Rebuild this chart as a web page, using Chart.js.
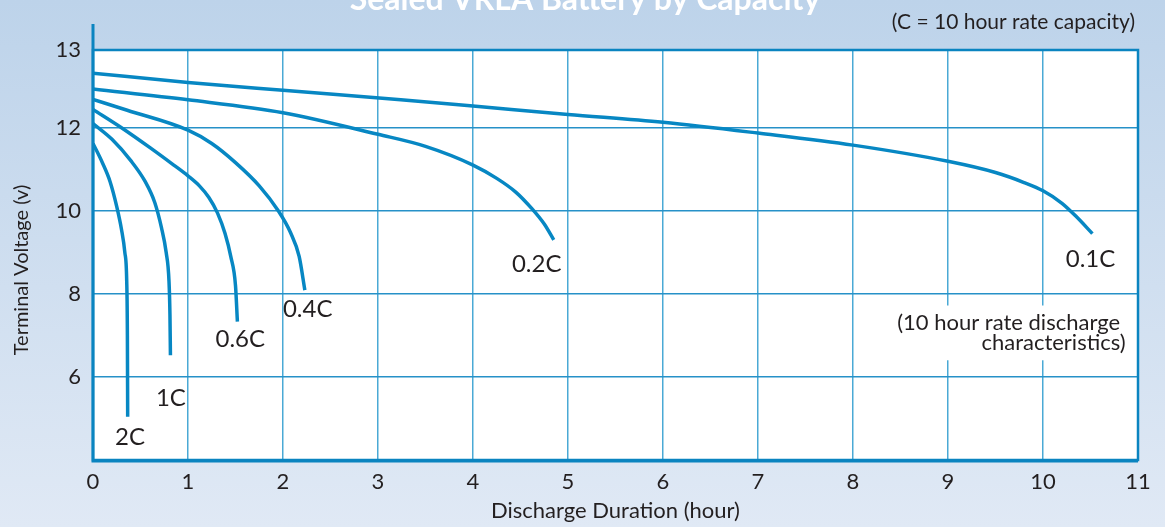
<!DOCTYPE html>
<html>
<head>
<meta charset="utf-8">
<script src="https://cdn.jsdelivr.net/npm/chart.js@4.4.0/dist/chart.umd.min.js"></script>
<style>
  html, body { margin: 0; padding: 0; }
  body { width: 1165px; height: 527px; overflow: hidden; background: #d0dff0; }
  #wrap { width: 1165px; height: 527px; position: relative; }
</style>
</head>
<body>
<div id="wrap"><canvas id="chartDescarga"></canvas></div>
<script>
// Curvas de descarga (horas, volts)
const nomesCurvas = ['0.1C', '0.2C', '0.4C', '0.6C', '1C', '2C'];

const horas01 = [0, 1, 2, 3.24, 4, 5, 6, 7, 8, 9, 9.5, 9.8, 10, 10.2, 10.35, 10.52];
const volts01 = [13.31, 13.09, 12.9, 12.67, 12.52, 12.32, 12.13, 11.87, 11.58, 11.19, 10.92, 10.68, 10.48, 10.18, 9.86, 9.45];

const horas02 = [0, 1, 2, 3, 3.5, 4, 4.25, 4.45, 4.62, 4.75, 4.85];
const volts02 = [12.93, 12.67, 12.36, 11.84, 11.55, 11.10, 10.78, 10.45, 10.05, 9.68, 9.3];

const horas04 = [0, 0.36, 1, 1.25, 1.5, 1.75, 1.95, 2.08, 2.17, 2.23];
const volts04 = [12.68, 12.42, 11.94, 11.62, 11.16, 10.6, 10.0, 9.47, 8.9, 8.09];

const horas06 = [0, 0.3, 0.6, 0.85, 1.0, 1.12, 1.22, 1.31, 1.39, 1.45, 1.5, 1.52];
const volts06 = [12.44, 12.0, 11.52, 11.1, 10.84, 10.6, 10.32, 9.95, 9.45, 8.9, 8.2, 7.33];

const horas1 = [0, 0.2, 0.4, 0.55, 0.65, 0.72, 0.77, 0.8, 0.81, 0.815];
const volts1 = [12.1, 11.72, 11.2, 10.7, 10.2, 9.6, 9.0, 8.3, 7.5, 6.52];

const horas2 = [0, 0.1, 0.18, 0.25, 0.3, 0.335, 0.355, 0.362, 0.365];
const volts2 = [11.62, 11.15, 10.7, 10.1, 9.55, 9.0, 8.3, 7.0, 5.04];

// Posicao dos rotulos das curvas (em unidades do grafico)
const rotuloHoras = [10.5, 4.67, 2.26, 1.55, 0.82, 0.39];
const rotuloVolts = [8.83, 8.71, 7.63, 6.90, 5.48, 4.54];

// Eixos
const ticksY = [4, 6, 8, 10, 12, 13.87];
const ticksYLabels = ['', '6', '8', '10', '12', '13'];
const ticksX = [0, 1, 2, 3, 4, 5, 6, 7, 8, 9, 10, 11];

const titulo = 'Sealed VRLA Battery by Capacity';
const notaC = '(C = 10 hour rate capacity)';
const notaDescarga = ['(10 hour rate discharge ', 'characteristics)'];

const corCurva = '#0787c3';
const corTexto = '#231f20';
const fonte = 'Lato, "Noto Sans", sans-serif';

const curvas = [
    [horas01, volts01], [horas02, volts02], [horas04, volts04],
    [horas06, volts06], [horas1, volts1], [horas2, volts2]
];

const decor = {
    id: 'decor',
    beforeDraw(chart) {
        const { ctx, chartArea: a, width, height } = chart;
        ctx.save();
        const g = ctx.createLinearGradient(0, 0, 0, height);
        g.addColorStop(0, '#bdd3ea');
        g.addColorStop(1, '#e0e9f5');
        ctx.fillStyle = g;
        ctx.fillRect(0, 0, width, height);
        ctx.fillStyle = '#ffffff';
        ctx.fillRect(a.left, a.top, a.right - a.left, a.bottom - a.top);
        ctx.restore();
    },
    afterDraw(chart) {
        const { ctx, chartArea: a, scales } = chart;
        ctx.save();
        // moldura
        ctx.strokeStyle = '#0a84c0';
        ctx.lineWidth = 2.5;
        ctx.strokeRect(a.left, a.top, a.right - a.left, a.bottom - a.top);
        ctx.lineWidth = 3;
        ctx.beginPath();
        ctx.moveTo(a.left, a.top - 26);
        ctx.lineTo(a.left, a.bottom + 1);
        ctx.lineTo(a.right, a.bottom + 1);
        ctx.stroke();

        // titulo (cortado no topo)
        ctx.fillStyle = '#ffffff';
        ctx.font = 'bold 32px ' + fonte;
        ctx.textAlign = 'center';
        ctx.textBaseline = 'alphabetic';
        ctx.fillText(titulo, 585, 10);

        ctx.fillStyle = corTexto;
        ctx.font = '21px ' + fonte;
        ctx.textAlign = 'right';
        ctx.textBaseline = 'middle';
        ctx.fillText(notaC, a.right - 3, 22);

        // rotulos das curvas
        ctx.font = '24px ' + fonte;
        ctx.textAlign = 'center';
        nomesCurvas.forEach((n, i) => {
            ctx.fillText(n, scales.x.getPixelForValue(rotuloHoras[i]), scales.y.getPixelForValue(rotuloVolts[i]));
        });

        // nota 10 horas com fundo branco
        const xr = scales.x.getPixelForValue(10.87);
        const y1 = scales.y.getPixelForValue(7.31);
        const y2 = scales.y.getPixelForValue(6.81);
        ctx.font = '22px ' + fonte;
        const w = ctx.measureText(notaDescarga[0]).width;
        ctx.fillStyle = '#ffffff';
        ctx.fillRect(xr - w - 8, y1 - 17, w + 12, y2 - y1 + 34);
        ctx.fillStyle = corTexto;
        ctx.fillText(notaDescarga[0], xr - w / 2, y1);
        ctx.textAlign = 'right';
        ctx.fillText(notaDescarga[1], xr, y2);

        // titulo do eixo Y
        ctx.translate(22, 270);
        ctx.rotate(-Math.PI / 2);
        ctx.textAlign = 'center';
        ctx.font = '20px ' + fonte;
        ctx.fillText('Terminal Voltage (v)', 0, 0);
        ctx.restore();
    }
};

new Chart(document.getElementById('chartDescarga'), {
    type: 'line',
    data: {
        datasets: curvas.map((c, i) => ({
            label: nomesCurvas[i],
            data: c[0].map((h, j) => ({ x: h, y: c[1][j] })),
            borderColor: corCurva,
            borderWidth: 3.5,
            pointRadius: 0,
            cubicInterpolationMode: 'monotone',
            fill: false
        }))
    },
    options: {
        responsive: true,
        maintainAspectRatio: false,
        animation: false,
        layout: { padding: { top: 50, right: 27, left: 0, bottom: 0 } },
        plugins: { legend: { display: false }, tooltip: { enabled: false } },
        scales: {
            x: {
                type: 'linear',
                min: 0,
                max: 11,
                afterBuildTicks: (s) => { s.ticks = ticksX.map(v => ({ value: v })); },
                afterFit: (s) => { s.height = 67; },
                ticks: { color: corTexto, font: { family: fonte, size: 22 }, padding: 9, maxRotation: 0 },
                grid: { color: '#4aa9d5', lineWidth: 1.5, drawTicks: false },
                border: { display: false },
                title: {
                    display: true,
                    text: 'Discharge Duration (hour)',
                    color: corTexto,
                    font: { family: fonte, size: 22 },
                    padding: { top: 0, bottom: 3 }
                }
            },
            y: {
                min: 4,
                max: 13.87,
                afterBuildTicks: (s) => { s.ticks = ticksY.map(v => ({ value: v })); },
                afterFit: (s) => { s.width = 93; },
                ticks: {
                    color: corTexto,
                    font: { family: fonte, size: 22 },
                    padding: 12,
                    callback: (v) => ticksYLabels[ticksY.indexOf(v)]
                },
                grid: { color: '#2691c8', lineWidth: 1.5, drawTicks: false },
                border: { display: false }
            }
        }
    },
    plugins: [decor]
});
</script>
</body>
</html>
